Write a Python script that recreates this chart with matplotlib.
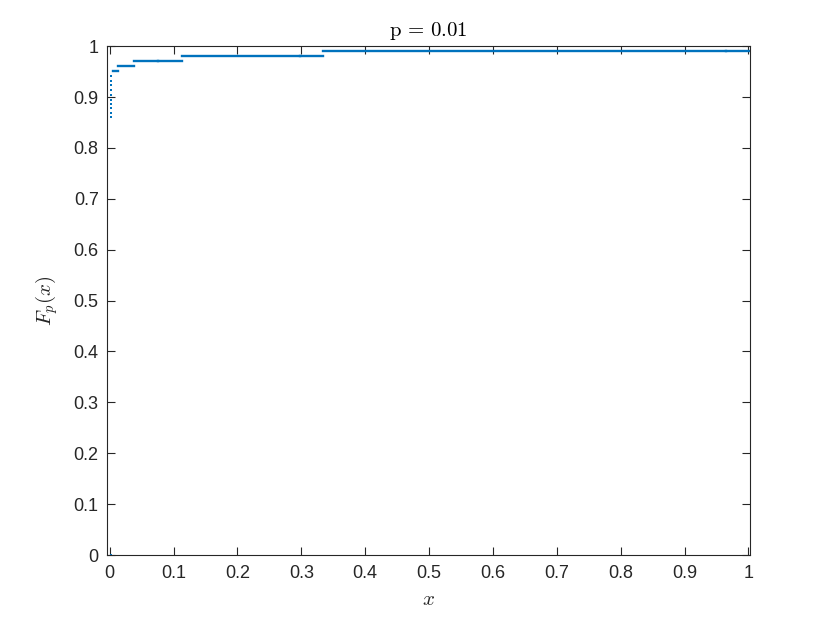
import numpy as np
import matplotlib
matplotlib.use("Agg")
import matplotlib.pyplot as plt

plt.rcParams['font.family'] = ['Liberation Sans', 'DejaVu Sans']
plt.rcParams['mathtext.fontset'] = 'cm'
plt.rcParams['path.simplify'] = False

# horizontal pieces of the step curve: start, end, level
seg_start = [0.963, 0.3333, 0.296, 0.1111, 0.074, 0.0370, 0.0123, 0.0041,
             0.00137, 0.00046, 0.00015, 0.00005, 0.000017, 0.0000056,
             0.0000019, 0.0000006, 0.0000002, 0.0]
seg_end = [1.0, 0.963, 0.3333, 0.296, 0.1111, 0.074, 0.0370, 0.0123,
           0.0041, 0.00137, 0.00046, 0.00015, 0.00005, 0.000017,
           0.0000056, 0.0000019, 0.0000006, 0.0000002]
seg_level = [0.991, 0.990, 0.981, 0.980, 0.971, 0.970, 0.961, 0.951,
             0.941, 0.932, 0.923, 0.914, 0.904, 0.895, 0.886, 0.878,
             0.869, 0.860]

blue = '#0072BD'
fig = plt.figure(figsize=(8.3, 6.23), dpi=100)
ax = fig.add_axes([0.129, 0.109, 0.775, 0.817])

xs, ys, dx, dy = [], [], [], []
for a, b, v in zip(seg_start, seg_end, seg_level):
    if b - a > 0.003:
        xs += [a, b, np.nan]
        ys += [v, v, np.nan]
    else:
        # shorter than a pixel: shows up as a dot
        dx.append(a)
        dy.append(v)

off = 0.0015
ax.plot(np.array(xs) + off, ys, color=blue, lw=1.7, solid_capstyle='projecting')
ax.plot(np.array(dx) + off, dy, 's', color=blue, ms=1.9, mew=0)
ax.plot([off], [0.0], 's', color=blue, ms=1.6, mew=0)

ax.set_xlim(-0.004, 1.003)
ax.set_ylim(0, 1)
ax.set_xticks(np.arange(0, 1.01, 0.1))
ax.set_xticklabels(['0', '0.1', '0.2', '0.3', '0.4', '0.5', '0.6', '0.7', '0.8', '0.9', '1'])
ax.set_yticks(np.arange(0, 1.01, 0.1))
ax.set_yticklabels(['0', '0.1', '0.2', '0.3', '0.4', '0.5', '0.6', '0.7', '0.8', '0.9', '1'])
ax.tick_params(direction='in', top=True, right=True, labelsize=13,
               colors='#262626', length=6, width=0.8)
ax.tick_params(axis='x', pad=7)
ax.tick_params(axis='y', pad=6)
for s in ax.spines.values():
    s.set_color('#262626')
    s.set_linewidth(0.8)

ax.set_xlabel(r'$x$', fontsize=15, color='#262626', labelpad=6)
ax.set_ylabel(r'$F_p(x)$', fontsize=15, color='#262626', labelpad=10)
ax.set_title(r'$\mathrm{p}\, =\, 0.01$', fontsize=15, color='black', pad=7)

fig.savefig('out.png', dpi=100)
